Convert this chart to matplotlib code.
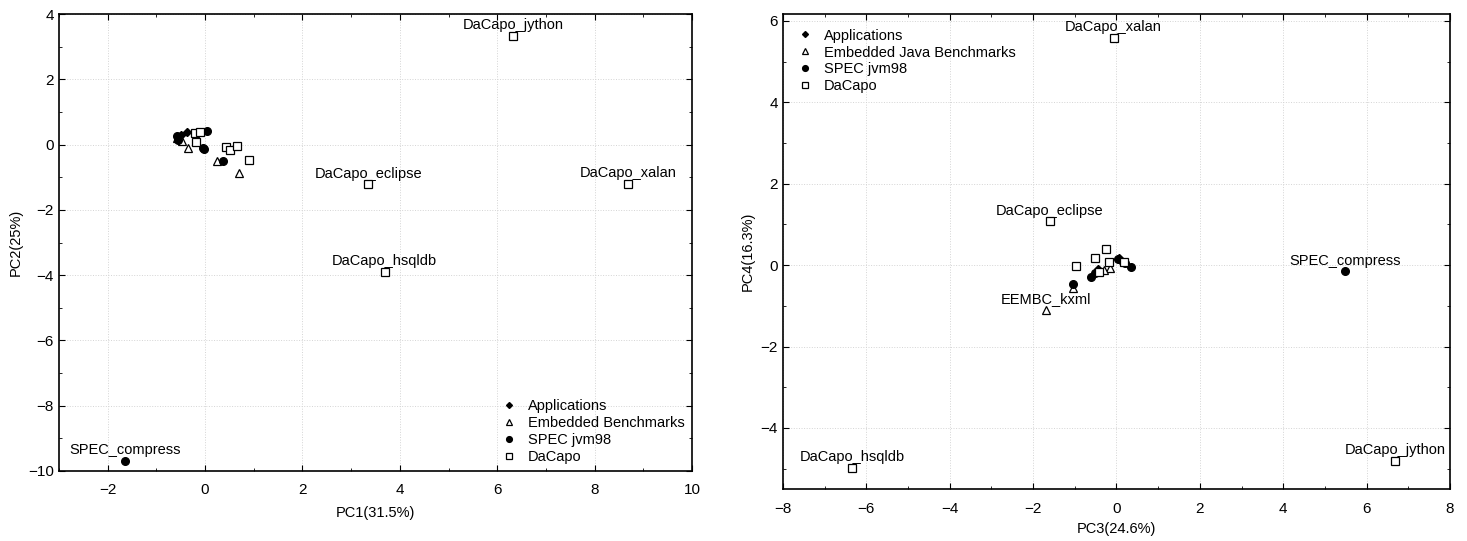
import matplotlib
matplotlib.use("Agg")
import matplotlib.pyplot as plt
from matplotlib.ticker import MultipleLocator

plt.rcParams['font.family'] = ['Liberation Sans', 'DejaVu Sans']

# ---- PC1 vs PC2 ----
app_pc1 = [-0.50, -0.38, -0.12]
app_pc2 = [0.30, 0.38, 0.40]
emb_pc1 = [-0.48, -0.36, 0.24, 0.69, -0.58]
emb_pc2 = [0.12, -0.12, -0.50, -0.88, 0.20]
spec_pc1 = [-1.65, -0.57, -0.55, 0.03, -0.05, -0.02, 0.37]
spec_pc2 = [-9.68, 0.25, 0.15, 0.42, -0.10, -0.14, -0.49]
dacapo_pc1 = [6.33, 3.35, 8.69, 3.69, -0.20, -0.10, -0.19, 0.42, 0.51, 0.65, 0.90]
dacapo_pc2 = [3.34, -1.22, -1.20, -3.89, 0.35, 0.40, 0.09, -0.08, -0.16, -0.04, -0.46]
labels_a = ["DaCapo_jython", "DaCapo_eclipse", "DaCapo_xalan", "DaCapo_hsqldb", "SPEC_compress"]
labels_a_x = [6.33, 3.35, 8.69, 3.69, -1.65]
labels_a_y = [3.34, -1.22, -1.20, -3.89, -9.68]

# ---- PC3 vs PC4 ----
app_pc3 = [0.05, -0.45, 0.10]
app_pc4 = [0.18, -0.10, 0.10]
emb_pc3 = [-1.69, -1.04, -0.16, -0.30]
emb_pc4 = [-1.10, -0.57, -0.06, -0.12]
spec_pc3 = [5.48, -1.04, -0.60, -0.52, 0.04, 0.36, 0.20]
spec_pc4 = [-0.15, -0.47, -0.29, -0.20, 0.15, -0.04, 0.05]
dacapo_pc3 = [-0.07, -1.60, -6.34, 6.68, -0.97, -0.51, -0.26, -0.17, -0.42, 0.18]
dacapo_pc4 = [5.59, 1.08, -4.98, -4.80, -0.02, 0.18, 0.40, 0.07, -0.16, 0.07]
labels_b = ["DaCapo_xalan", "DaCapo_eclipse", "SPEC_compress", "EEMBC_kxml", "DaCapo_hsqldb", "DaCapo_jython"]
labels_b_x = [-0.07, -1.60, 5.48, -1.69, -6.34, 6.68]
labels_b_y = [5.59, 1.08, -0.15, -1.10, -4.98, -4.80]

FS = 10.5


def draw_panel(ax, groups, names, lab_x, lab_y):
    styles = [
        dict(marker="D", markersize=4, color="black", mfc="black"),
        dict(marker="^", markersize=5.5, color="black", mfc="white", mew=0.9),
        dict(marker="o", markersize=5.5, color="black", mfc="black"),
        dict(marker="s", markersize=5.5, color="black", mfc="white", mew=0.9),
    ]
    for (xs, ys, lab), st in zip(groups, styles):
        ax.plot(xs, ys, linestyle="none", label=lab, **st)
    for name, x, y in zip(names, lab_x, lab_y):
        ax.annotate(name, (x, y), xytext=(0, 2.5), textcoords="offset points",
                    ha="center", va="bottom", fontsize=FS)
    ax.xaxis.set_major_locator(MultipleLocator(2))
    ax.xaxis.set_minor_locator(MultipleLocator(1))
    ax.yaxis.set_major_locator(MultipleLocator(2))
    ax.yaxis.set_minor_locator(MultipleLocator(1))
    ax.tick_params(which="both", direction="in", top=True, right=True, labelsize=11)
    ax.tick_params(which="major", length=4)
    ax.tick_params(which="minor", length=2.5)
    ax.tick_params(axis="x", which="major", pad=9)
    ax.grid(True, which="major", linestyle=":", color="#d4d4d4", linewidth=0.7)
    for s in ax.spines.values():
        s.set_linewidth(1.2)


fig = plt.figure(figsize=(14.67, 5.41), dpi=100)

ax1 = fig.add_axes([0.0402, 0.1294, 0.4315, 0.8447])
draw_panel(ax1, [(app_pc1, app_pc2, "Applications"),
                 (emb_pc1, emb_pc2, "Embedded Benchmarks"),
                 (spec_pc1, spec_pc2, "SPEC jvm98"),
                 (dacapo_pc1, dacapo_pc2, "DaCapo")],
           labels_a, labels_a_x, labels_a_y)
ax1.set_xlim(-3, 10)
ax1.set_ylim(-10, 4)
ax1.set_xlabel("PC1(31.5%)", fontsize=FS, labelpad=6)
ax1.set_ylabel("PC2(25%)", fontsize=FS)
ax1.legend(loc="lower right", frameon=False, fontsize=FS, handlelength=1,
           handletextpad=0.8, labelspacing=0.2, borderaxespad=0.1, markerscale=0.75)

ax2 = fig.add_axes([0.5337, 0.0961, 0.4547, 0.8780])
draw_panel(ax2, [(app_pc3, app_pc4, "Applications"),
                 (emb_pc3, emb_pc4, "Embedded Java Benchmarks"),
                 (spec_pc3, spec_pc4, "SPEC jvm98"),
                 (dacapo_pc3, dacapo_pc4, "DaCapo")],
           labels_b, labels_b_x, labels_b_y)
ax2.set_xlim(-8, 8)
ax2.set_ylim(-5.5, 6.17)
ax2.set_xlabel("PC3(24.6%)", fontsize=FS, labelpad=5)
ax2.set_ylabel("PC4(16.3%)", fontsize=FS)
ax2.legend(loc="upper left", frameon=False, fontsize=FS, handlelength=1,
           handletextpad=0.8, labelspacing=0.2, borderaxespad=0.6, markerscale=0.75)

fig.savefig("out.png", dpi=100)
